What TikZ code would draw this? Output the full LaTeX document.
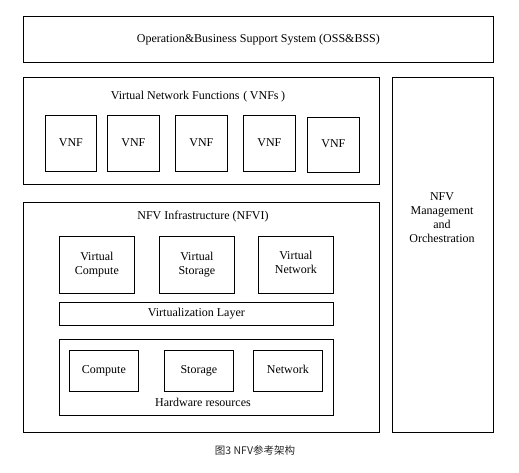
\documentclass[tikz,border=0pt]{standalone}
\usepackage{fontspec}
\setmainfont{Liberation Serif}
\newfontfamily\cjk{Noto Sans CJK SC}
\begin{document}
\begin{tikzpicture}[x=1pt,y=-1pt,
  box/.style={draw=black, line width=0.8pt, inner sep=0pt, align=center, anchor=north west, font=\fontsize{12}{14}\selectfont},
  lbl/.style={inner sep=0pt, align=center, font=\fontsize{12}{14}\selectfont},
  captext/.style={inner sep=0pt, text=black!85, font=\cjk\fontsize{10.5}{12}\selectfont}]
\useasboundingbox (0,0) rectangle (519,472);
% top
\node[box, minimum width=470pt, minimum height=46pt] (oss) at (23,16) {\strut Operation\&Business Support System (OSS\&BSS)};
% VNFs
\node[box, minimum width=356pt, minimum height=107pt] (vnfs) at (23,77) {};
\node[lbl] (vnfstitle) at (198,96.7) {\strut Virtual Network Functions\hspace{4pt}(\hspace{2.5pt}VNFs\hspace{2.5pt})};
\node[box, minimum width=51pt, minimum height=56pt] (vnf1) at (45,115) {\strut VNF};
\node[box, minimum width=52pt, minimum height=56pt] (vnf2) at (107,115) {\strut VNF};
\node[box, minimum width=52pt, minimum height=56pt] (vnf3) at (175,115) {\strut VNF};
\node[box, minimum width=52pt, minimum height=56pt] (vnf4) at (243,115) {\strut VNF};
\node[box, minimum width=52pt, minimum height=55pt] (vnf5) at (307,117) {\strut VNF};
% MANO
\node[box, minimum width=101pt, minimum height=355pt] (mano) at (392,77) {};
\node[lbl] (manotext) at (442,217.7) {NFV\\Management\\and\\Orchestration};
% NFVI
\node[box, minimum width=356pt, minimum height=230pt] (nfvi) at (23,202) {};
\node[lbl] (nfvititle) at (203,216.7) {\strut NFV Infrastructure (NFVI)};
\node[box, minimum width=75pt, minimum height=57pt] (vc) at (59,236) {Virtual\\Compute};
\node[box, minimum width=75pt, minimum height=57pt] (vs) at (159,236) {Virtual\\Storage};
\node[box, minimum width=75pt, minimum height=57pt] (vn) at (258,236) {Virtual\\Network\strut};
\node[box, minimum width=274pt, minimum height=23pt] (vl) at (59,302) {\strut Virtualization Layer};
\node[box, minimum width=274pt, minimum height=76pt] (hw) at (59,339) {};
\node[box, minimum width=69pt, minimum height=41pt] (comp) at (69,350) {\strut Compute};
\node[box, minimum width=69pt, minimum height=41pt] (stor) at (164,350) {\strut Storage};
\node[box, minimum width=69pt, minimum height=41pt] (netw) at (253,350) {\strut Network};
\node[lbl] (hwtitle) at (203,403.3) {\strut Hardware resources};
% caption
\node[captext] (caption) at (255,450) {图3 NFV参考架构};
\end{tikzpicture}
\end{document}
